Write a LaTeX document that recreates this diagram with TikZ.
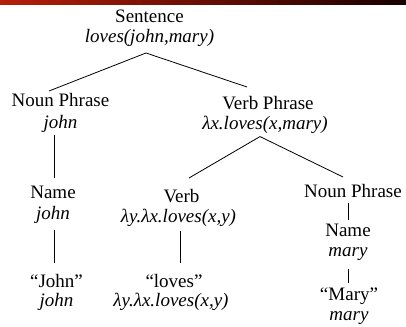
\documentclass[tikz,border=0pt]{standalone}
\usepackage{fontspec}
\setmainfont{Liberation Serif}
\begin{document}
\begin{tikzpicture}[x=1pt,y=-1pt,
  pair/.style={anchor=north,inner sep=0pt,align=center,
    font={\fontsize{19}{#1}\selectfont}},
  edge/.style={line width=0.8pt,black}]
\useasboundingbox (0,0) rectangle (406,326);
\shade[left color={rgb,255:red,182;green,30;blue,8},right color={rgb,255:red,24;green,0;blue,0}] (0,0) rectangle (406,4.5);
% labels
\node[pair=20] (s) at (149.5,9.7) {Sentence\\\textit{loves(john,mary)}};
\node[pair=22] (np1) at (60.5,93.5) {Noun Phrase\\\textit{john}};
\node[pair=20] (vp) at (268,96.3) {Verb Phrase\\\hspace*{-6pt}\textit{λx.loves(x,mary)}};
\node[pair=21] (nm1) at (53,186) {Name\\\textit{john}};
\node[pair=20] (vb) at (181.5,189.5) {Verb\\\hspace*{-6pt}\textit{λy.λx.loves(x,y)}};
\node[pair=20] (np2) at (353,183.7) {Noun Phrase};
\node[pair=20] (nm2) at (348,224) {Name\\\textit{mary}};
\node[pair=19] (jq) at (56.5,274) {“John”\\\textit{john}};
\node[pair=19] (lq) at (174,274) {“loves”\\\hspace*{-6pt}\textit{λy.λx.loves(x,y)}};
\node[pair=20] (mq) at (349,288) {“Mary”\\\textit{mary}};
% connectors
\draw[edge] ([shift={(-3.5,6.2)}]s.south) -- ([shift={(-11.5,-2.5)}]np1.north);
\draw[edge] ([shift={(-3.5,6.2)}]s.south) -- ([shift={(-21,-9.3)}]vp.north);
\draw[edge] ([shift={(-6.5,1.5)}]np1.south) -- ([shift={(1,-8)}]nm1.north);
\draw[edge] ([shift={(-8,2.6)}]vp.south) -- ([shift={(7.5,-11.5)}]vb.north);
\draw[edge] ([shift={(-8,2.6)}]vp.south) -- ([shift={(-10,-6.7)}]np2.north);
\draw[edge] ([shift={(1,6)}]nm1.south) -- ([shift={(-2.5,-11)}]jq.north);
\draw[edge] ([shift={(-1.5,3.4)}]vb.south) -- ([shift={(6,-11)}]lq.north);
\draw[edge] ([shift={(-5,5.3)}]np2.south) -- ([shift={(0,-4)}]nm2.north);
\draw[edge] ([shift={(0,7.9)}]nm2.south) -- ([shift={(-1,-5)}]mq.north);
\end{tikzpicture}
\end{document}
